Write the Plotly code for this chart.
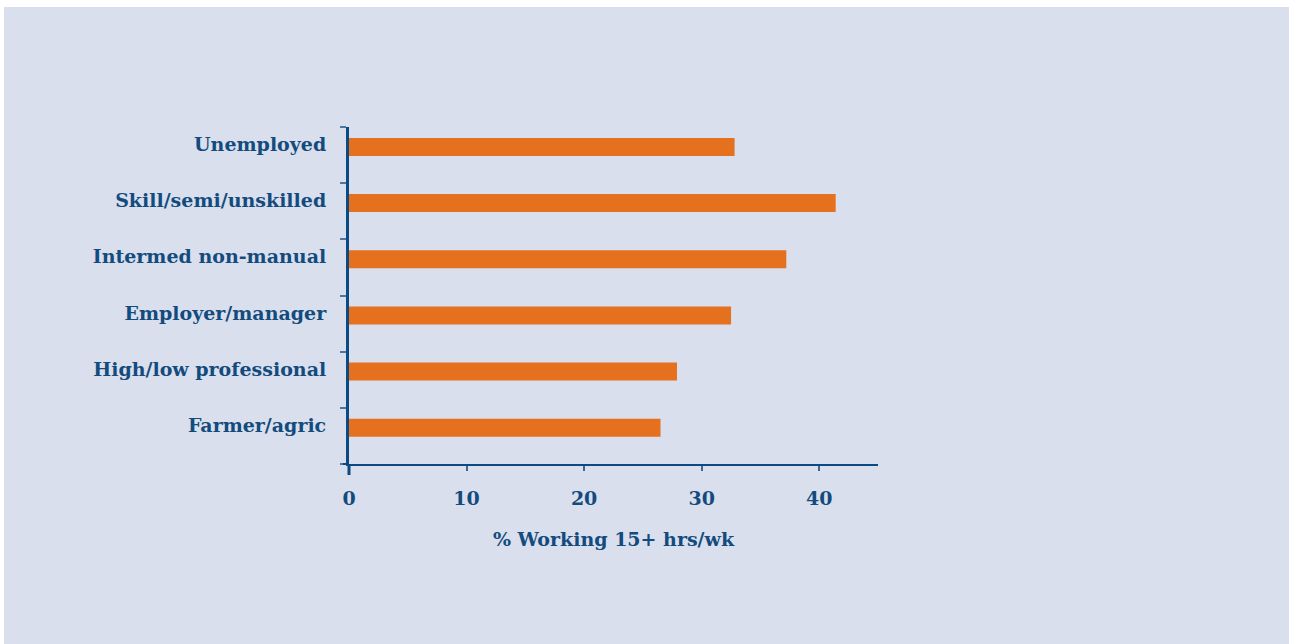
import plotly.graph_objects as go

categories = ["Farmer/agric", "High/low professional", "Employer/manager",
              "Intermed non-manual", "Skill/semi/unskilled", "Unemployed"]
values = [26.5, 27.9, 32.5, 37.2, 41.4, 32.8]
x_ticks = [0, 10, 20, 30, 40]
x_title = "% Working 15+ hrs/wk"

TEXT = "#134b7e"
AXIS = "#0b4a82"
BAR = "#e5711e"
BG = "#d9dfec"
FONT = "DejaVu Serif"
FS = 19

W, H = 1290, 644
ML, MR, MT, MB = 349, 412, 127, 180
PW, PH = W - ML - MR, H - MT - MB

idx = list(range(len(categories)))
bar_pos = [i + 0.145 for i in idx]
label_pos = [i + 0.19 for i in idx]
bounds = [i - 0.5 for i in idx] + [len(idx) - 0.5]

fig = go.Figure(go.Bar(
    x=values, y=bar_pos, orientation="h", width=0.32,
    marker=dict(color=BAR, line=dict(width=0)),
    hoverinfo="skip",
))

fig.update_layout(
    width=W, height=H,
    margin=dict(l=ML, r=MR, t=MT, b=MB, pad=0),
    paper_bgcolor="white",
    plot_bgcolor="rgba(0,0,0,0)",
    showlegend=False,
    font=dict(family=FONT, color=TEXT, size=FS),
    shapes=[
        dict(type="rect", xref="paper", yref="paper", layer="below",
             x0=(4 - ML) / PW, x1=(1289 - ML) / PW,
             y0=-(MB) / PH, y1=(H - 7 - MB) / PH,
             fillcolor=BG, line=dict(width=0)),
        dict(type="line", xref="paper", yref="paper",
             x0=0, x1=0, y0=0, y1=-11 / PH,
             line=dict(color=AXIS, width=3)),
        dict(type="line", xref="paper", yref="paper",
             x0=-6 / PW, x1=0, y0=0, y1=0,
             line=dict(color=AXIS, width=2)),
    ],
)

fig.update_xaxes(
    range=[0, 45], tickvals=x_ticks, ticktext=[str(t) for t in x_ticks],
    showgrid=False, zeroline=False,
    showline=True, linecolor=AXIS, linewidth=2,
    ticks="outside", ticklen=5, tickwidth=2, tickcolor="#3d6796",
    ticklabelstandoff=11,
    tickfont=dict(family=FONT, size=FS, color=TEXT, weight="bold"),
    title=dict(text=x_title, standoff=25,
               font=dict(family=FONT, size=FS, color=TEXT, weight="bold")),
)

fig.update_yaxes(
    range=[-0.5, len(idx) - 0.5], tickvals=label_pos, ticktext=categories,
    showgrid=False, zeroline=False,
    showline=True, linecolor=AXIS, linewidth=3,
    ticks="", ticklabelstandoff=16,
    minor=dict(tickvals=bounds, ticks="outside", ticklen=6, tickwidth=1.5,
               tickcolor="#4e76a2", showgrid=False),
    tickfont=dict(family=FONT, size=FS, color=TEXT, weight="bold"),
)

fig.write_html("out.html",
               config={"displayModeBar": False},
               post_script="document.body.style.margin='0';"
                           "document.body.style.overflow='hidden';")
